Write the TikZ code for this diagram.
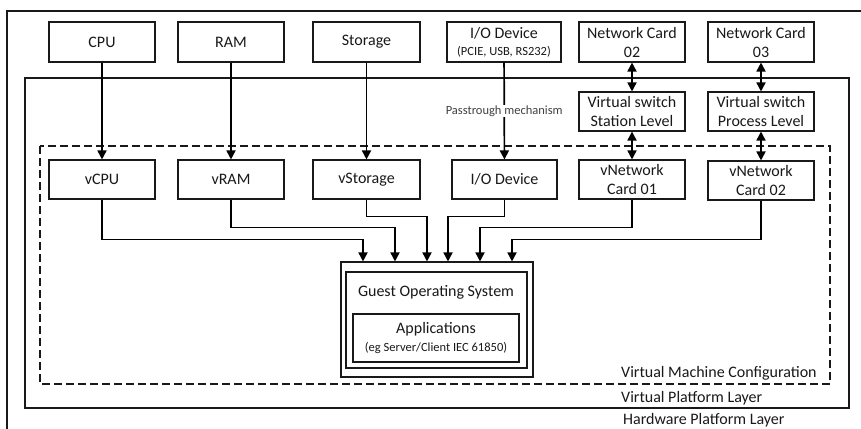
\documentclass[tikz,border=0pt]{standalone}
\usepackage{fontspec}
\setmainfont{Carlito}
\usetikzlibrary{arrows.meta}
\newcommand{\bigtxt}{\fontsize{16}{19}\selectfont}
\newcommand{\smalltxt}{\fontsize{12.5}{15}\selectfont}
\begin{document}
\begin{tikzpicture}[x=1pt,y=-1pt,
  every node/.style={text=black!90},
  box/.style={draw=black!90, line width=1.1pt, fill=white, font=\bigtxt, align=center, inner sep=1pt},
  unit/.style={box, minimum width=106pt, minimum height=40pt},
  frame/.style={draw=black!90, line width=1.1pt},
  conn/.style={draw=black, line width=1.7pt, -{Triangle[width=9pt,length=9pt]}},
  bothconn/.style={draw=black, line width=1.7pt, {Triangle[width=9pt,length=9pt]}-{Triangle[width=9pt,length=9pt]}},
  layer/.style={anchor=west, font=\bigtxt, inner sep=0pt}
]
\useasboundingbox (0,0) rectangle (861,428);
\fill[white] (0,0) rectangle (861,428);

% hardware, virtual platform and virtual machine frames
\draw[frame] (7,11) rectangle (880,445);
\draw[frame] (25,78) rectangle (849,408);
\draw[frame, dash pattern=on 8pt off 4pt] (40,146) rectangle (830,384);

% physical resources
\node[unit] (cpu) at (102,42) {CPU};
\node[unit] (ram) at (231,42) {RAM};
\node[unit, minimum width=107pt] (sto) at (366.5,42) {Storage};
\node[unit, minimum width=114pt] (io) at (504,42) {I/O Device\\[-2pt]{\smalltxt (PCIE, USB, RS232)}};
\node[unit] (nc2) at (632,42) {Network Card\\02};
\node[unit] (nc3) at (761,42) {Network Card\\03};

% virtual switches
\node[unit, minimum height=39pt] (vs1) at (632,111.5) {Virtual switch\\Station Level};
\node[unit, minimum height=39pt] (vs2) at (761,111.5) {Virtual switch\\Process Level};

% virtual devices
\node[unit, minimum height=39pt] (vcpu) at (102,179.5) {vCPU};
\node[unit, minimum height=39pt] (vram) at (231,179.5) {vRAM};
\node[unit, minimum height=39pt, minimum width=107pt] (vsto) at (366.5,179.5) {vStorage};
\node[unit, minimum height=39pt, minimum width=105pt] (vio) at (504.5,179.5) {I/O Device};
\node[unit, minimum height=39pt] (vn1) at (632,179.5) {vNetwork\\Card 01};
\node[unit, minimum height=39pt] (vn2) at (761,180.5) {vNetwork\\Card 02};

% guest operating system
\node[box, minimum width=192pt, minimum height=115pt] (guest) at (437,319.5) {};
\node[box, minimum width=181pt, minimum height=96pt] (guestin) at (436.5,320) {};
\node[font=\bigtxt, inner sep=0pt] (gtitle) at (436,292) {Guest Operating System};
\node[box, minimum width=166pt, minimum height=48pt] (apps) at (436,338) {Applications\\[-1pt]{\smalltxt (eg Server/Client IEC 61850)}};

% entry points on the guest system
\coordinate (g1) at ([xshift=-74pt]guest.north);
\coordinate (g2) at ([xshift=-42pt]guest.north);
\coordinate (g3) at ([xshift=-10pt]guest.north);
\coordinate (g4) at ([xshift=11pt]guest.north);
\coordinate (g5) at ([xshift=43pt]guest.north);
\coordinate (g6) at ([xshift=75pt]guest.north);

% physical to virtual
\draw[conn] (cpu) -- (vcpu);
\draw[conn] (ram) -- (vram);
\draw[conn] (sto) -- (vsto);
\draw[conn] (io) -- node[fill=white, inner sep=1pt, font=\smalltxt, text=black!75] (pass) {Passtrough mechanism} (vio);
\draw[bothconn] (nc2) -- (vs1);
\draw[bothconn] (nc3) -- (vs2);
\draw[bothconn] (vs1) -- (vn1);
\draw[bothconn] (vs2) -- (vn2);

% virtual devices to guest system
\draw[conn] (vcpu.south) -- ++(0,40) -| (g1);
\draw[conn] (vram.south) -- ++(0,28) -| (g2);
\draw[conn] (vsto.south) -- ++(0,17) -| (g3);
\draw[conn] (vio.south) -- ++(0,17) -| (g4);
\draw[conn] (vn1.south) -- ++(0,28) -| (g5);
\draw[conn] (vn2.south) -- ++(0,39) -| (g6);

% layer labels
\node[layer] (lvm) at (621,373) {Virtual Machine Configuration};
\node[layer] (lvp) at (621,398) {Virtual Platform Layer};
\node[layer] (lhw) at (623,420) {Hardware Platform Layer};
\end{tikzpicture}
\end{document}
